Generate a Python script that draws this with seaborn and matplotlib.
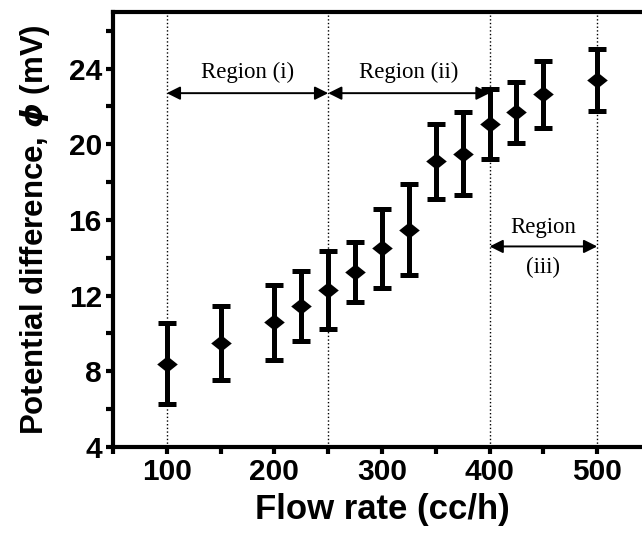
import matplotlib
matplotlib.use('Agg')
import matplotlib.pyplot as plt
import seaborn as sns
import pandas as pd
from matplotlib.ticker import MultipleLocator

# Flow rate vs potential difference
flow_rate = [100, 150, 200, 225, 250, 275, 300, 325, 350, 375, 400, 425, 450, 500]
potential = [8.4, 9.5, 10.6, 11.45, 12.3, 13.25, 14.5, 15.48, 19.1, 19.5, 21.07, 21.68, 22.65, 23.4]
error = [2.15, 1.96, 1.98, 1.83, 2.06, 1.56, 2.1, 2.4, 1.98, 2.2, 1.85, 1.6, 1.77, 1.65]

region_bounds = [100, 250, 400, 500]
region_labels = ['Region (i)', 'Region (ii)', 'Region\n\n(iii)']

df = pd.DataFrame({'Flow': flow_rate, 'Phi': potential, 'Err': error})

sns.set_style('ticks')
plt.rcParams['font.family'] = ['Liberation Sans', 'DejaVu Sans']
plt.rcParams['font.weight'] = 'bold'
for key in ['text.color', 'axes.labelcolor', 'xtick.color', 'ytick.color', 'axes.edgecolor']:
    plt.rcParams[key] = 'black'

fig = plt.figure(figsize=(6.42, 5.36), dpi=100)
ax = fig.add_axes([0.176, 0.166, 0.838, 0.812])

# region boundaries
for xb in region_bounds:
    ax.axvline(xb, color='black', linestyle=':', linewidth=1, zorder=1)

ax.errorbar(df['Flow'], df['Phi'], yerr=df['Err'], fmt='none', ecolor='black',
            elinewidth=3.6, capsize=6.5, capthick=3.6, zorder=2)
# squat diamond marker shape
diamond = [(-1, 0), (0, 0.8), (1, 0), (0, -0.8), (-1, 0)]
sns.scatterplot(data=df, x='Flow', y='Phi', marker=diamond, s=220, color='black',
                edgecolor='black', linewidth=0, ax=ax, zorder=3)

# region arrows and labels
arrow_kw = dict(arrowstyle='<|-|>', color='black', lw=1.4, mutation_scale=20,
                shrinkA=0, shrinkB=0)
ax.annotate('', xy=(region_bounds[0], 22.7), xytext=(region_bounds[1], 22.7), arrowprops=arrow_kw)
ax.annotate('', xy=(region_bounds[1], 22.7), xytext=(region_bounds[2], 22.7), arrowprops=arrow_kw)
ax.annotate('', xy=(region_bounds[2], 14.6), xytext=(region_bounds[3], 14.6), arrowprops=arrow_kw)
serif = dict(family='Liberation Serif', fontsize=16.5, fontweight='normal', ha='center', va='center')
ax.text((region_bounds[0] + region_bounds[1]) / 2, 23.8, region_labels[0], **serif)
ax.text((region_bounds[1] + region_bounds[2]) / 2, 23.8, region_labels[1], **serif)
ax.text((region_bounds[2] + region_bounds[3]) / 2, 14.55, region_labels[2], linespacing=0.95, **serif)

ax.set_xlim(50, 550)
ax.set_ylim(4, 27)
ax.xaxis.set_major_locator(MultipleLocator(100))
ax.xaxis.set_minor_locator(MultipleLocator(50))
ax.yaxis.set_major_locator(MultipleLocator(4))
ax.yaxis.set_minor_locator(MultipleLocator(2))
ax.tick_params(which='both', direction='out', length=5, width=3, labelsize=21.5, pad=3)

ax.set_xlabel('Flow rate (cc/h)', fontsize=25, fontweight='bold', labelpad=5)
ax.set_ylabel(r'Potential difference, $\phi$ (mV)', fontsize=22.5, fontweight='bold', labelpad=12)

for side in ['left', 'bottom', 'top']:
    ax.spines[side].set_linewidth(3)
ax.spines['right'].set_visible(False)

fig.savefig('out.png', dpi=100)
